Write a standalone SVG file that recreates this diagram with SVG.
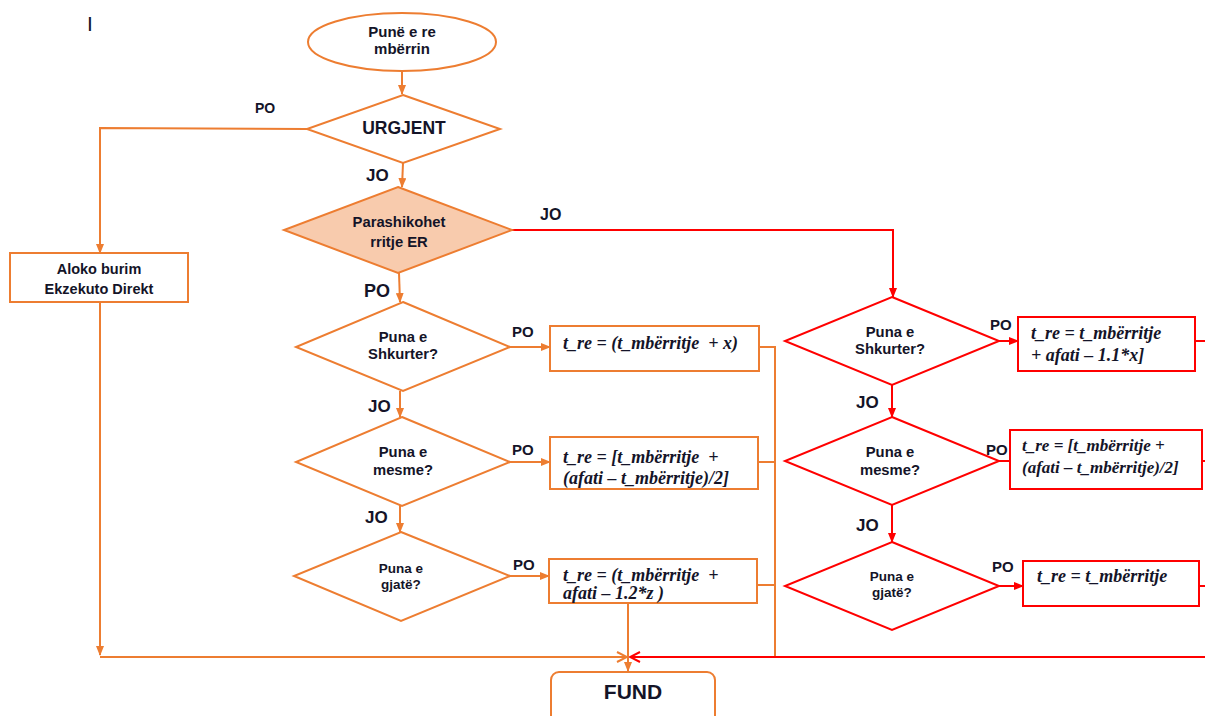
<svg xmlns="http://www.w3.org/2000/svg" width="1205" height="716" viewBox="0 0 1205 716">
  <style>
    .o { fill: none; stroke: #ED7D31; stroke-width: 2; }
    .r { fill: none; stroke: #FF0000; stroke-width: 2; }
    .of { fill: #FFFFFF; stroke: #ED7D31; stroke-width: 2; }
    .rf { fill: #FFFFFF; stroke: #FF0000; stroke-width: 2; }
    .pf { fill: #F8CBAD; stroke: #ED7D31; stroke-width: 2; }
    .t { font-family: "Liberation Sans", Arial, sans-serif; font-weight: bold; fill: #141428; text-anchor: middle; }
    .lbl { font-family: "Liberation Sans", Arial, sans-serif; font-weight: bold; fill: #141428; }
    .f { font-family: "Liberation Serif", "Times New Roman", serif; font-weight: bold; font-style: italic; fill: #141428; white-space: pre; }
  </style>
  <defs>
    <marker id="ao" markerWidth="10" markerHeight="8" refX="9" refY="4" orient="auto" markerUnits="userSpaceOnUse">
      <path d="M0,0 L10,4 L0,8 Z" fill="#ED7D31"/>
    </marker>
    <marker id="ar" markerWidth="10" markerHeight="8" refX="9" refY="4" orient="auto" markerUnits="userSpaceOnUse">
      <path d="M0,0 L10,4 L0,8 Z" fill="#FF0000"/>
    </marker>
    <marker id="aoOpen" markerWidth="12" markerHeight="12" refX="11" refY="6" orient="auto" markerUnits="userSpaceOnUse">
      <path d="M1,1 L11,6 L1,11" fill="none" stroke="#ED7D31" stroke-width="2"/>
    </marker>
    <marker id="arOpen" markerWidth="12" markerHeight="12" refX="11" refY="6" orient="auto" markerUnits="userSpaceOnUse">
      <path d="M1,1 L11,6 L1,11" fill="none" stroke="#FF0000" stroke-width="2"/>
    </marker>
  </defs>

  <rect width="1205" height="716" fill="#FFFFFF"/>

  <text x="87" y="31" font-family="Liberation Sans, Arial, sans-serif" font-size="21" fill="#141428">I</text>

  <!-- connectors -->
  <g id="connectors">
    <line class="o" x1="402" y1="72" x2="402" y2="94" marker-end="url(#ao)"/>
    <polyline class="o" points="307,129 100,128 100,253" marker-end="url(#ao)"/>
    <line class="o" x1="100" y1="302" x2="100" y2="655" marker-end="url(#ao)"/>
    <line class="o" x1="403" y1="163" x2="402" y2="187" marker-end="url(#ao)"/>
    <polyline class="r" points="512,230 893,230 893,297" marker-end="url(#ar)"/>
    <line class="o" x1="399" y1="273" x2="400" y2="302" marker-end="url(#ao)"/>

    <line class="o" x1="510" y1="347" x2="550" y2="347" marker-end="url(#ao)"/>
    <line class="o" x1="400" y1="391" x2="400" y2="417" marker-end="url(#ao)"/>
    <line class="o" x1="510" y1="462" x2="550" y2="462" marker-end="url(#ao)"/>
    <line class="o" x1="400" y1="505" x2="400" y2="532" marker-end="url(#ao)"/>
    <line class="o" x1="510" y1="576" x2="549" y2="576" marker-end="url(#ao)"/>

    <polyline class="o" points="759,347 775,347 775,657"/>
    <line class="o" x1="758" y1="462" x2="775" y2="462"/>
    <line class="o" x1="757" y1="585" x2="775" y2="585"/>
    <line class="o" x1="628" y1="603" x2="628" y2="671" marker-end="url(#ao)"/>

    <line class="o" x1="100" y1="657" x2="627" y2="657" marker-end="url(#aoOpen)"/>
    <line class="r" x1="1205" y1="657" x2="630" y2="657" marker-end="url(#arOpen)"/>

    <line class="r" x1="999" y1="341" x2="1018" y2="341" marker-end="url(#ar)"/>
    <line class="r" x1="892" y1="385" x2="892" y2="417" marker-end="url(#ar)"/>
    <line class="r" x1="999" y1="461" x2="1010" y2="461"/>
    <line class="r" x1="892" y1="505" x2="892" y2="542" marker-end="url(#ar)"/>
    <line class="r" x1="999" y1="586" x2="1023" y2="586" marker-end="url(#ar)"/>

    <line class="r" x1="1195" y1="341" x2="1205" y2="341"/>
    <line class="r" x1="1202" y1="461" x2="1205" y2="461"/>
    <line class="r" x1="1199" y1="586" x2="1205" y2="586"/>
  </g>

  <!-- branch labels -->
  <g id="labels">
    <text class="lbl" x="255" y="113" font-size="14">PO</text>
    <text class="lbl" x="366" y="181" font-size="17">JO</text>
    <text class="lbl" x="540" y="220" font-size="16">JO</text>
    <text class="lbl" x="364" y="297" font-size="18">PO</text>
    <text class="lbl" x="512" y="337" font-size="15">PO</text>
    <text class="lbl" x="368" y="412" font-size="17">JO</text>
    <text class="lbl" x="512" y="455" font-size="15">PO</text>
    <text class="lbl" x="365" y="523" font-size="17">JO</text>
    <text class="lbl" x="513" y="570" font-size="15">PO</text>
    <text class="lbl" x="990" y="330" font-size="15">PO</text>
    <text class="lbl" x="856" y="408" font-size="17">JO</text>
    <text class="lbl" x="986" y="455" font-size="15">PO</text>
    <text class="lbl" x="856" y="531" font-size="17">JO</text>
    <text class="lbl" x="992" y="572" font-size="15">PO</text>
  </g>

  <g id="start">
    <ellipse class="of" cx="402" cy="42" rx="94" ry="29"/>
    <text class="t" x="402" y="37" font-size="15">Punë e re</text>
    <text class="t" x="402" y="54" font-size="15">mbërrin</text>
  </g>

  <g id="urgjent">
    <polygon class="of" points="403,95 500,129 403,163 307,129"/>
    <text class="t" x="404" y="134" font-size="17.5">URGJENT</text>
  </g>

  <g id="aloko">
    <rect class="of" x="10" y="253" width="178" height="49"/>
    <text class="t" x="99" y="274" font-size="14.5">Aloko burim</text>
    <text class="t" x="99" y="294" font-size="14.5">Ekzekuto Direkt</text>
  </g>

  <g id="parashikohet">
    <polygon class="pf" points="398,187 512,230 398,273 284,230"/>
    <text class="t" x="399" y="227" font-size="14.8">Parashikohet</text>
    <text class="t" x="399" y="247" font-size="14.8">rritje ER</text>
  </g>

  <!-- left branch -->
  <g id="l-shkurter">
    <polygon class="of" points="403,302 510,347 403,391 296,347"/>
    <text class="t" x="403" y="342" font-size="14.8">Puna e</text>
    <text class="t" x="403" y="359" font-size="14.8">Shkurter?</text>
  </g>
  <g id="l-box1">
    <rect class="of" x="550" y="326" width="209" height="45"/>
    <text class="f" x="563" y="349" font-size="18">t_re = (t_mbërritje  + x)</text>
  </g>

  <g id="l-mesme">
    <polygon class="of" points="402,417 510,462 402,506 296,462"/>
    <text class="t" x="403" y="457" font-size="14.8">Puna e</text>
    <text class="t" x="403" y="475" font-size="14.8">mesme?</text>
  </g>
  <g id="l-box2">
    <rect class="of" x="550" y="437" width="208" height="52"/>
    <text class="f" x="563" y="463" font-size="18">t_re = [t_mbërritje  +</text>
    <text class="f" x="563" y="484" font-size="18">(afati – t_mbërritje)/2]</text>
  </g>

  <g id="l-gjate">
    <polygon class="of" points="401,532 510,576 401,621 294,576"/>
    <text class="t" x="401" y="573" font-size="13.5">Puna e</text>
    <text class="t" x="401" y="589" font-size="13.5">gjatë?</text>
  </g>
  <g id="l-box3">
    <rect class="of" x="549" y="559" width="208" height="44"/>
    <text class="f" x="563" y="581" font-size="18">t_re = (t_mbërritje  +</text>
    <text class="f" x="563" y="599" font-size="18">afati – 1.2*z )</text>
  </g>

  <g id="fund">
    <rect class="of" x="551" y="672" width="164" height="60" rx="8" ry="8"/>
    <text class="t" x="633" y="699" font-size="21">FUND</text>
  </g>

  <!-- right branch -->
  <g id="r-shkurter">
    <polygon class="rf" points="892,297 999,341 892,385 785,341"/>
    <text class="t" x="890" y="337" font-size="14.8">Puna e</text>
    <text class="t" x="890" y="354" font-size="14.8">Shkurter?</text>
  </g>
  <g id="r-box1">
    <rect class="rf" x="1018" y="317" width="177" height="54"/>
    <text class="f" x="1031" y="339" font-size="18">t_re = t_mbërritje</text>
    <text class="f" x="1031" y="361" font-size="18">+ afati – 1.1*x]</text>
  </g>

  <g id="r-mesme">
    <polygon class="rf" points="892,417 999,461 892,505 785,461"/>
    <text class="t" x="890" y="457" font-size="14.8">Puna e</text>
    <text class="t" x="890" y="475" font-size="14.8">mesme?</text>
  </g>
  <g id="r-box2">
    <rect class="rf" x="1010" y="430" width="192" height="59"/>
    <text class="f" x="1022" y="451" font-size="17">t_re = [t_mbërritje +</text>
    <text class="f" x="1022" y="473" font-size="17">(afati – t_mbërritje)/2]</text>
  </g>

  <g id="r-gjate">
    <polygon class="rf" points="892,542 999,586 892,630 785,586"/>
    <text class="t" x="892" y="581" font-size="13.5">Puna e</text>
    <text class="t" x="892" y="597" font-size="13.5">gjatë?</text>
  </g>
  <g id="r-box3">
    <rect class="rf" x="1023" y="561" width="176" height="45"/>
    <text class="f" x="1037" y="582" font-size="18">t_re = t_mbërritje</text>
  </g>
</svg>
